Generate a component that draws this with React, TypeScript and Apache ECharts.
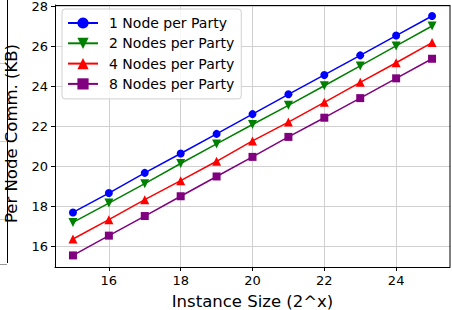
import React, { useEffect, useRef } from "react";
import * as echarts from "echarts";

const xValues = [15, 16, 17, 18, 19, 20, 21, 22, 23, 24, 25];
const oneNode = [17.7, 18.67, 19.68, 20.65, 21.63, 22.62, 23.61, 24.58, 25.56, 26.55, 27.53];
const twoNodes = [17.2, 18.17, 19.14, 20.15, 21.13, 22.1, 23.06, 24.04, 25.03, 26.03, 27.03];
const fourNodes = [16.37, 17.34, 18.34, 19.29, 20.26, 21.28, 22.22, 23.21, 24.21, 25.19, 26.2];
const eightNodes = [15.55, 16.54, 17.52, 18.51, 19.5, 20.48, 21.48, 22.44, 23.42, 24.41, 25.39];
const xTicks = [16, 18, 20, 22, 24];
const yTicks = [16, 18, 20, 22, 24, 26, 28];
const seriesNames = ["1 Node per Party", "2 Nodes per Party", "4 Nodes per Party", "8 Nodes per Party"];

const FONT = "DejaVu Sans";

export default function App() {
  const ref = useRef<HTMLDivElement>(null);
  useEffect(() => {
    if (!ref.current) return;
    document.body.style.margin = "0";
    const chart = echarts.init(ref.current, undefined, { renderer: "svg" });
    const mk = (name: string, data: number[], color: string, symbol: string, rotate = 0) => ({
      name,
      type: "line",
      data: xValues.map((x, i) => [x, data[i]]),
      symbol,
      symbolSize: symbol === "rect" ? 8 : symbol === "circle" ? 8 : 9,
      symbolRotate: rotate,
      showSymbol: true,
      lineStyle: { color, width: 1.5 },
      itemStyle: { color },
      z: 3,
    });
    chart.setOption({
      animation: false,
      grid: { left: 55, right: 2, top: 5, bottom: 43, containLabel: false, outerBoundsMode: "none" },
      xAxis: {
        type: "value",
        min: 14.5,
        max: 25.5,
        name: "Instance Size (2^x)",
        nameLocation: "middle",
        nameGap: 26,
        nameTextStyle: { fontFamily: FONT, fontSize: 16.5, color: "#000" },
        axisLine: { lineStyle: { color: "#000", width: 1 } },
        axisTick: { show: true, length: 4, customValues: xTicks, lineStyle: { color: "#000" } },
        axisLabel: { customValues: xTicks, fontFamily: FONT, fontSize: 13, color: "#000", margin: 7 },
        splitLine: { show: true, lineStyle: { color: "#d0d0d0", width: 1 } },
      },
      yAxis: {
        type: "value",
        min: 14.97,
        max: 28.08,
        name: "Per Node Comm. (KB)",
        nameLocation: "middle",
        nameGap: 35,
        nameTextStyle: { fontFamily: FONT, fontSize: 16.5, color: "#000", padding: [0, 0, 0, 5] },
        axisLine: { show: true, lineStyle: { color: "#000", width: 1 } },
        axisTick: { show: true, length: 4, customValues: yTicks, lineStyle: { color: "#000" } },
        axisLabel: { customValues: yTicks, fontFamily: FONT, fontSize: 13, color: "#000", margin: 7 },
        splitLine: { show: true, lineStyle: { color: "#d0d0d0", width: 1 } },
      },
      legend: {
        left: 62,
        top: 9,
        orient: "vertical",
        itemWidth: 30,
        itemHeight: 14,
        itemGap: 6.3,
        padding: [7, 7, 8, 5],
        borderColor: "#d0d0d0",
        borderWidth: 1,
        borderRadius: 3,
        backgroundColor: "rgba(255,255,255,0.85)",
        textStyle: { fontFamily: FONT, fontSize: 14, color: "#000", padding: [0, 0, 0, 6] },
        data: seriesNames,
      },
      graphic: [
        { type: "line", shape: { x1: 7.5, y1: 0, x2: 7.5, y2: 263 }, style: { stroke: "#000", lineWidth: 1 } },
        { type: "line", shape: { x1: 0, y1: 264.5, x2: 7, y2: 264.5 }, style: { stroke: "#999", lineWidth: 1 } },
        { type: "line", shape: { x1: 0, y1: 63.5, x2: 7, y2: 63.5 }, style: { stroke: "#ccc", lineWidth: 1 } },
        { type: "line", shape: { x1: 0, y1: 141.5, x2: 7, y2: 141.5 }, style: { stroke: "#ccc", lineWidth: 1 } },
        { type: "line", shape: { x1: 0, y1: 219.5, x2: 7, y2: 219.5 }, style: { stroke: "#ccc", lineWidth: 1 } },
        { type: "line", shape: { x1: 55, y1: 5.5, x2: 450, y2: 5.5 }, style: { stroke: "#000", lineWidth: 1 }, z: 10 },
        { type: "line", shape: { x1: 450, y1: 5, x2: 450, y2: 267 }, style: { stroke: "#000", lineWidth: 1 }, z: 10 },
      ],
      series: [
        mk(seriesNames[0], oneNode, "#0000ff", "circle"),
        mk(seriesNames[1], twoNodes, "#008000", "triangle", 180),
        mk(seriesNames[2], fourNodes, "#ff0000", "triangle"),
        mk(seriesNames[3], eightNodes, "#800080", "rect"),
      ],
    });
    return () => chart.dispose();
  }, []);
  return <div ref={ref} style={{ position: "absolute", left: 0, top: 0, width: 452, height: 310 }} />;
}
